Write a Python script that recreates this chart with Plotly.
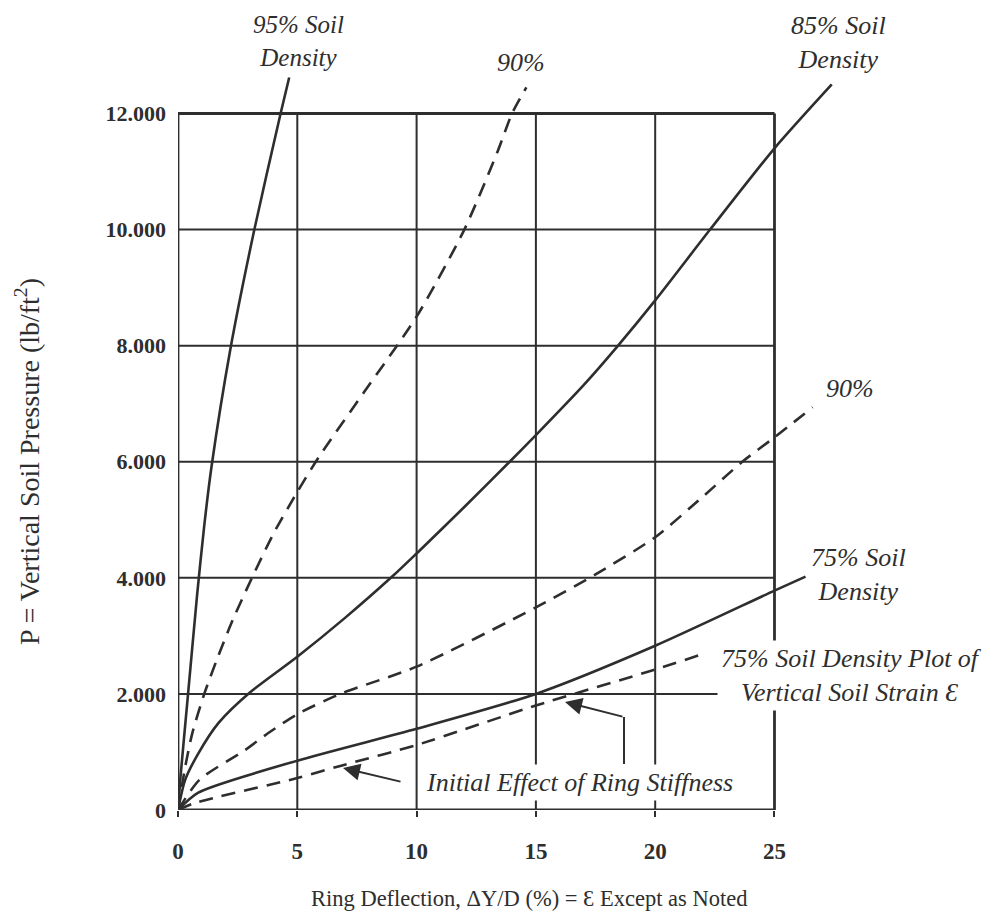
import plotly.graph_objects as go

# ---------------- data ----------------
# Ring deflection (%) and vertical soil pressure (lb/ft^2)
x_95 = [0, 0.1, 0.4, 0.8, 1.1, 1.4, 2.2, 3.2, 4.3, 4.66]
y_95 = [0, 550, 1900, 3700, 4900, 5900, 7950, 10000, 12000, 12620]

x_90_upper = [0, 0.3, 0.6, 1.1, 1.6, 2.3, 3.1, 4.0, 5.0, 5.9, 7.8, 10.0, 12.0, 13.4, 14.0, 14.6]
y_90_upper = [0, 740, 1325, 2000, 2560, 3280, 4000, 4760, 5480, 6080, 7200, 8500, 10000, 11350, 12000, 12450]

x_85 = [0, 0.3, 0.86, 1.7, 3.0, 5.0, 7.0, 9.0, 10.0, 12.0, 13.9, 15.0, 17.0, 18.4, 20.0, 22.3, 25.0, 27.4]
y_85 = [0, 520, 980, 1500, 2020, 2640, 3310, 4030, 4420, 5220, 6000, 6460, 7320, 7980, 8780, 10000, 11400, 12500]

x_90_lower = [0, 0.9, 2.8, 3.8, 5.0, 6.8, 10.0, 15.0, 17.5, 20.0, 22.0, 23.65, 25.0, 26.6]
y_90_lower = [0, 520, 1030, 1330, 1650, 2000, 2470, 3490, 4060, 4700, 5400, 6000, 6420, 6940]

x_75 = [0, 0.85, 5.0, 10.0, 15.0, 20.0, 25.0, 26.3]
y_75 = [0, 300, 850, 1400, 2000, 2830, 3780, 4020]

x_75_strain = [0, 0.7, 5.0, 6.8, 10.0, 15.0, 20.0, 21.8]
y_75_strain = [0, 120, 550, 760, 1120, 1800, 2420, 2660]

x_tickvals = [0, 5, 10, 15, 20, 25]
x_ticktext = ["0", "5", "10", "15", "20", "25"]
y_tickvals = [0, 2000, 4000, 6000, 8000, 10000, 12000]
y_ticktext = ["0", "2.000", "4.000", "6.000", "8.000", "10.000", "12.000"]

# ---------------- layout constants ----------------
W, H = 998, 924
ML, MR, MT, MB = 170, 148, 1, 122
PW, PH = W - ML - MR, H - MT - MB
OFF = 8  # page body margin
INK = "#2e2e2e"
FONT = "Liberation Serif, Times New Roman, serif"
DASH = "14px,9px"


def pxx(p):
    return (p - OFF - ML) / PW


def pxy(p):
    return (H - MB - (p - OFF)) / PH


fig = go.Figure()

series = [
    (x_95, y_95, "solid"),
    (x_90_upper, y_90_upper, DASH),
    (x_85, y_85, "solid"),
    (x_90_lower, y_90_lower, DASH),
    (x_75, y_75, "solid"),
    (x_75_strain, y_75_strain, DASH),
]
for xs, ys, dash in series:
    fig.add_trace(go.Scatter(
        x=xs, y=ys, mode="lines", showlegend=False, hoverinfo="skip",
        line=dict(color=INK, width=2.6, dash=dash, shape="spline", smoothing=0.7),
    ))

# grid / frame
shapes = []
xmax, ymax = x_tickvals[-1], y_tickvals[-1]
for xv in x_tickvals:
    border = xv in (x_tickvals[0], x_tickvals[-1])
    shapes.append(dict(type="line", xref="x", yref="y", x0=xv, x1=xv, y0=0, y1=ymax,
                       line=dict(color=INK, width=2.8 if border else 2), layer="below"))
for yv in y_tickvals:
    border = yv in (y_tickvals[0], y_tickvals[-1])
    shapes.append(dict(type="line", xref="x", yref="y", x0=0, x1=xmax, y0=yv, y1=yv,
                       line=dict(color=INK, width=2.8 if border else 2), layer="below"))
# elbow of the second "Initial Effect" pointer
shapes.append(dict(type="line", xref="paper", yref="paper", x0=pxx(624), x1=pxx(624),
                   y0=pxy(717), y1=pxy(764), line=dict(color=INK, width=2)))

ann = []


def label(text, cx, cy, bg=None, size=26):
    d = dict(text="<i>" + text + "</i>", x=pxx(cx), y=pxy(cy), xref="paper", yref="paper",
             xanchor="center", yanchor="middle", showarrow=False,
             font=dict(family=FONT, size=size, color=INK))
    if bg:
        d.update(bgcolor=bg, borderpad=3)
    ann.append(d)


label("95% Soil<br>Density", 298, 41, size=25)
label("90%", 521, 62)
label("85% Soil<br>Density", 838, 43)
label("90%", 850, 388)
label("75% Soil<br>Density", 858, 574)
label("75% Soil Density Plot of<br>Vertical Soil Strain Ɛ", 851, 675, bg="white")
label("Initial Effect of Ring Stiffness", 579, 782, bg="white")

# arrows
for hx, hy, tx, ty in [(343, 768, 402, 782), (565, 702, 624, 717)]:
    ann.append(dict(text="", x=pxx(hx), y=pxy(hy), xref="paper", yref="paper",
                    showarrow=True, ax=tx - hx, ay=ty - hy, arrowhead=2, arrowsize=1.7,
                    arrowwidth=2, arrowcolor=INK, standoff=0))

# axis titles
ann.append(dict(text="P = Vertical Soil Pressure (lb/ft<sup>2</sup>)", x=pxx(27), y=pxy(462),
                xref="paper", yref="paper", textangle=-90, showarrow=False,
                xanchor="center", yanchor="middle",
                font=dict(family=FONT, size=28, color=INK)))
ann.append(dict(text="Ring Deflection, ΔY/D (%) = Ɛ Except as Noted", x=pxx(529), y=pxy(898),
                xref="paper", yref="paper", showarrow=False,
                xanchor="center", yanchor="middle",
                font=dict(family=FONT, size=22.5, color=INK)))

fig.update_layout(
    width=W, height=H,
    margin=dict(l=ML, r=MR, t=MT, b=MB, pad=0),
    paper_bgcolor="white", plot_bgcolor="white",
    shapes=shapes, annotations=ann,
    xaxis=dict(range=[0, 28.5], tickvals=x_tickvals, ticktext=x_ticktext,
               showgrid=False, zeroline=False, showline=False,
               ticks="outside", ticklen=6, tickwidth=2, tickcolor=INK,
               ticklabelstandoff=14,
               tickfont=dict(family=FONT, size=23, color=INK, weight="bold")),
    yaxis=dict(range=[0, 13800], tickvals=y_tickvals, ticktext=y_ticktext,
               showgrid=False, zeroline=False, showline=False, ticks="",
               ticklabelstandoff=11,
               tickfont=dict(family=FONT, size=22, color=INK, weight="bold")),
)

fig.write_html("out.html")
